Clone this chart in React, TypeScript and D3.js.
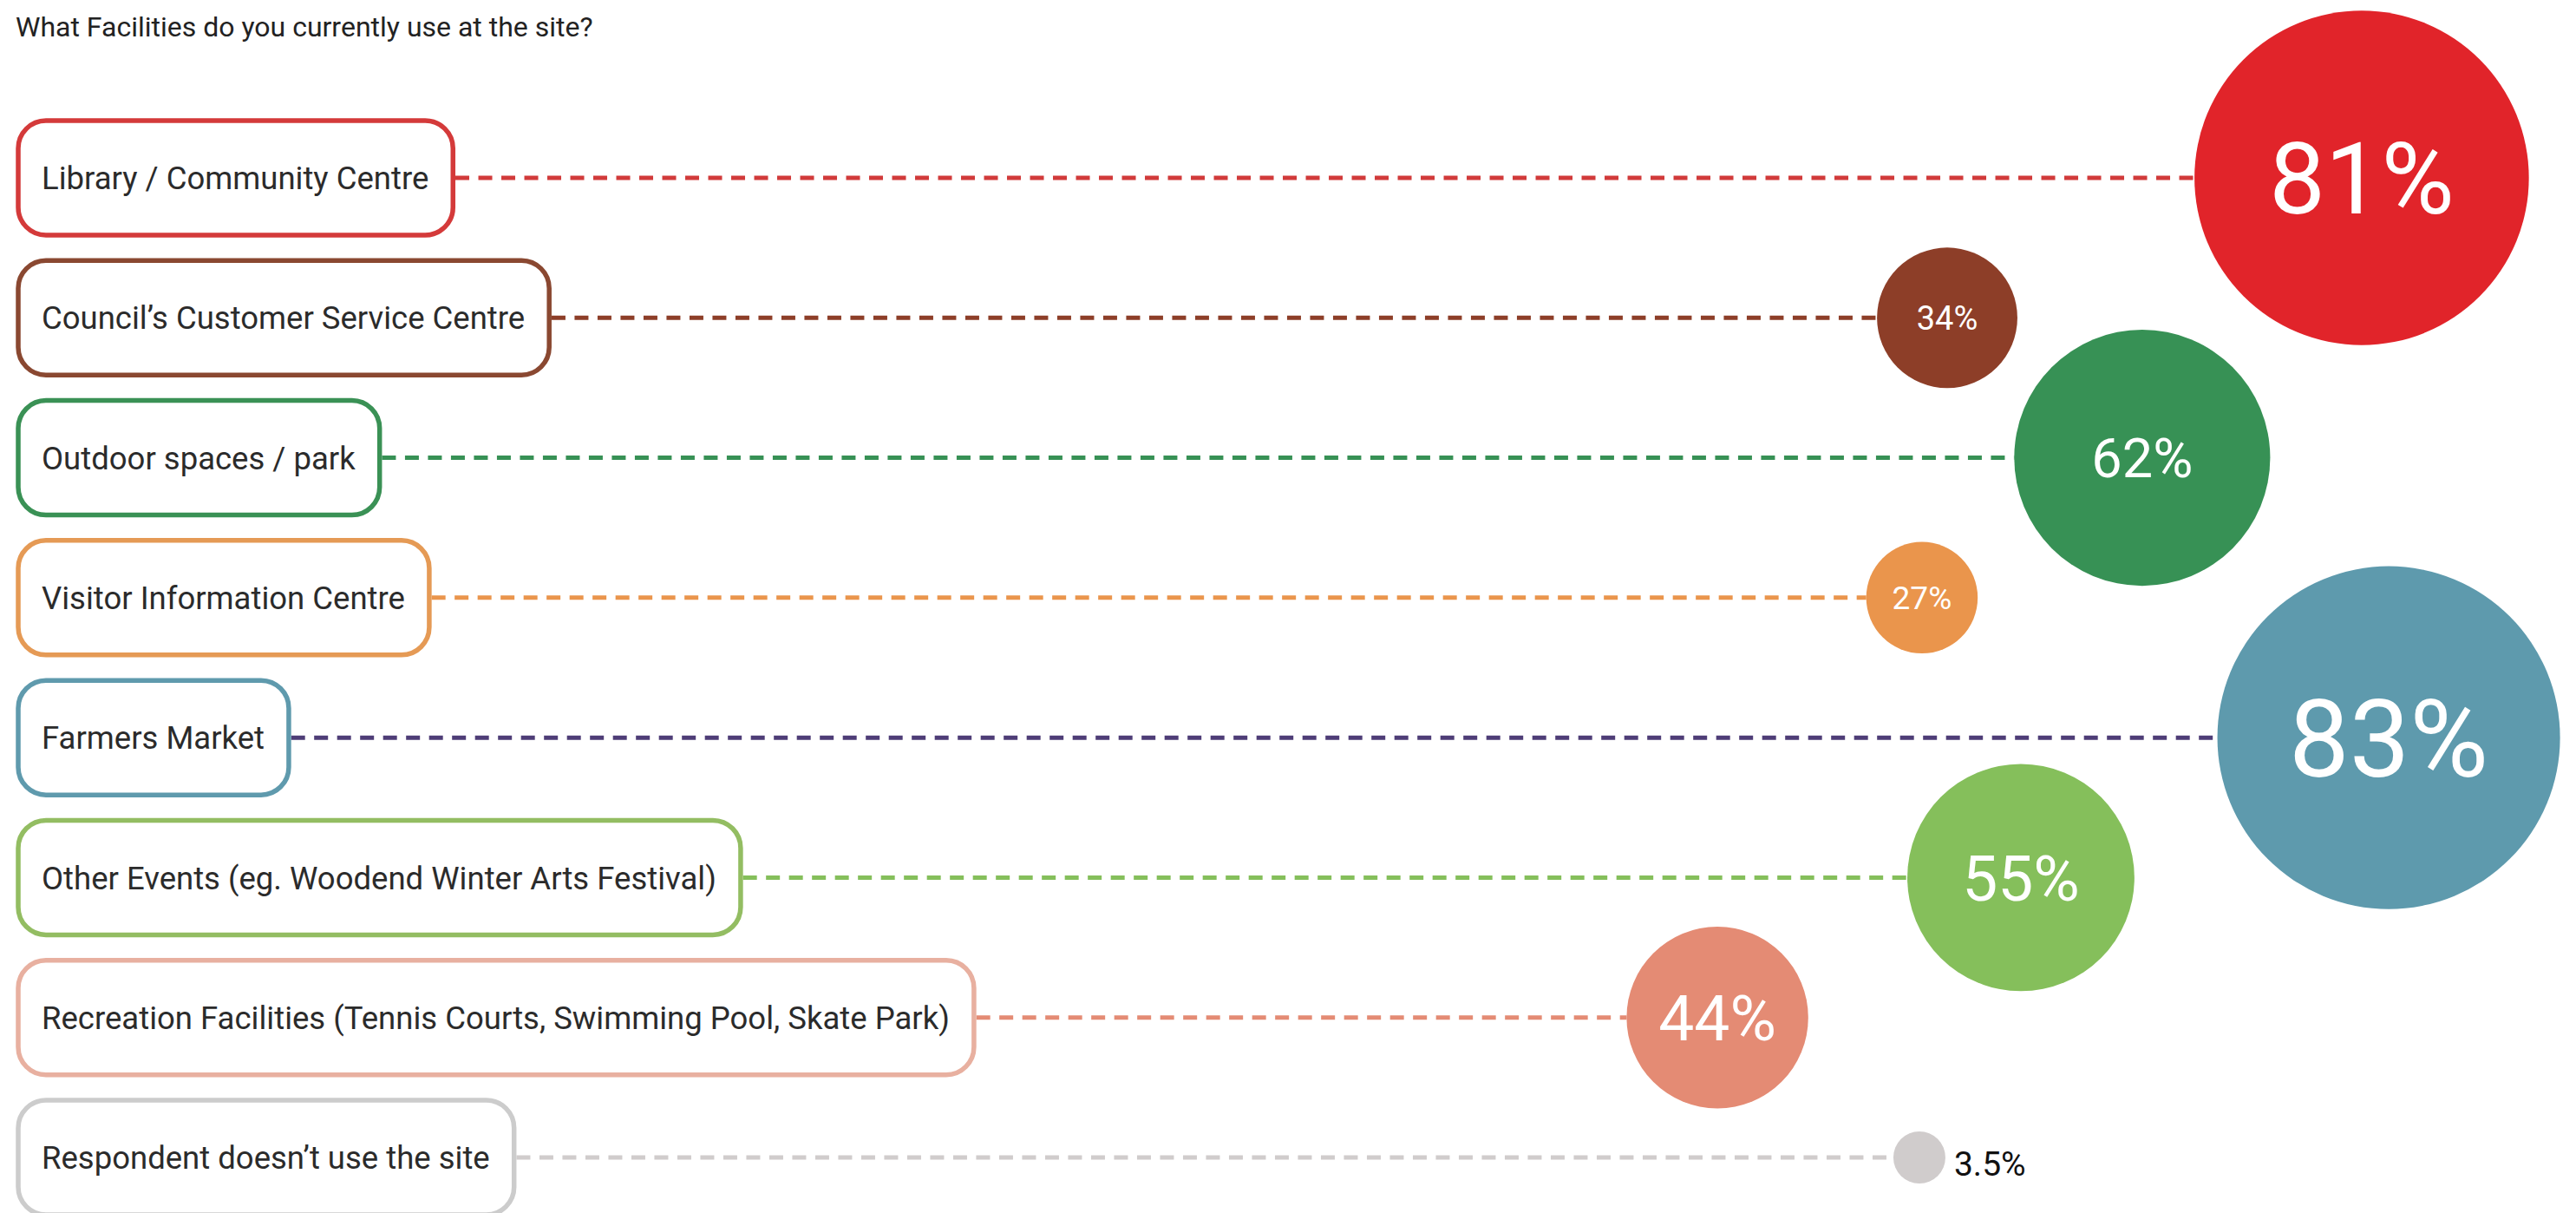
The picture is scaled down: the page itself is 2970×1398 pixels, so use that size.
import React, { useMemo } from "react";
import * as d3 from "d3";

const W = 2970;
const H = 1398;

const title = "What Facilities do you currently use at the site?";

const categories = [
  "Library / Community Centre",
  "Council\u2019s Customer Service Centre",
  "Outdoor spaces / park",
  "Visitor Information Centre",
  "Farmers Market",
  "Other Events (eg. Woodend Winter Arts Festival)",
  "Recreation Facilities (Tennis Courts, Swimming Pool, Skate Park)",
  "Respondent doesn\u2019t use the site",
];

const values = [81, 34, 62, 27, 83, 55, 44, 3.5];
const valueLabels = ["81%", "34%", "62%", "27%", "83%", "55%", "44%", "3.5%"];

// styles
const boxColors = ["#d43a3a", "#8a4831", "#3a9155", "#e59a55", "#5f9aad", "#93bd62", "#e8b0a0", "#cccccc"];
const bubbleColors = ["#e1242a", "#8d3e28", "#379155", "#ea954c", "#5e9aad", "#85bf5b", "#e48b74", "#d0cccc"];
const lineColors = ["#d13a3a", "#8d3e28", "#379155", "#ea954c", "#4e3d77", "#85bf5b", "#e48b74", "#d0cccc"];

// hand-placed horizontal layout of the bubbles (percent of chart width)
const bubblePos = [91.68, 75.59, 83.16, 74.61, 92.73, 78.45, 66.67, 74.51];
// label font sizes inside bubbles
const bubbleFont = [115, 38, 63, 37, 124, 73, 73, 39];

const FONT = "Roboto, 'Noto Sans', sans-serif";
const LABEL_SIZE = 36.5;
const LABEL_WEIGHT = 400;

function measure(texts: string[], font: string): number[] {
  const c = document.createElement("canvas");
  const ctx = c.getContext("2d")!;
  ctx.font = font;
  return texts.map((t) => ctx.measureText(t).width);
}

export default function App() {
  const y = d3.scalePoint<string>().domain(categories).range([205, 1334]);
  const x = d3.scaleLinear().domain([0, 100]).range([0, W]);
  const r = d3.scaleLinear().domain([0, 100]).range([0, 238]);
  const radius = (v: number) => Math.max(30, r(v));

  const widths = useMemo(
    () => measure(categories, `${LABEL_WEIGHT} ${LABEL_SIZE}px Roboto`),
    []
  );

  const boxX = 21;
  const padL = 27;
  const padR = 28;
  const boxH = 132;
  const strokeW = 5.5;

  return (
    <svg
      width={W}
      height={H}
      style={{ position: "absolute", left: 0, top: 0, display: "block", background: "#fff" }}
      fontFamily={FONT}
    >
      <text x={18} y={42} fontSize={32} fill="#222" fontWeight={400} fontFamily="Roboto">
        {title}
      </text>
      {categories.map((c, i) => {
        const cy = y(c)!;
        const bw = widths[i] + padL + padR;
        const rad = radius(values[i]);
        const cx = x(bubblePos[i]);
        const inside = rad > 45;
        return (
          <g key={c}>
            <line
              x1={boxX + bw + strokeW / 2}
              x2={cx - rad}
              y1={cy}
              y2={cy}
              stroke={lineColors[i]}
              strokeWidth={5}
              strokeDasharray="16 10.5"
            />
            <rect
              x={boxX}
              y={cy - boxH / 2}
              width={bw}
              height={boxH}
              rx={32}
              ry={32}
              fill="#fff"
              stroke={boxColors[i]}
              strokeWidth={strokeW}
            />
            <text
              x={boxX + padL}
              y={cy}
              dy="0.36em"
              fontSize={LABEL_SIZE}
              fontWeight={LABEL_WEIGHT}
              fill="#2b2b2b"
              fontFamily="Roboto"
            >
              {c}
            </text>
            <circle cx={cx} cy={cy} r={rad} fill={bubbleColors[i]} />
            {inside ? (
              <text
                x={cx}
                y={cy}
                dy="0.36em"
                textAnchor="middle"
                fontSize={bubbleFont[i]}
                fontWeight={400}
                fill="#fff"
                fontFamily="Roboto"
              >
                {valueLabels[i]}
              </text>
            ) : (
              <text
                x={cx + rad + 10}
                y={cy + 21}
                fontSize={bubbleFont[i]}
                fontWeight={400}
                fill="#111"
                fontFamily="Roboto"
              >
                {valueLabels[i]}
              </text>
            )}
          </g>
        );
      })}
    </svg>
  );
}
